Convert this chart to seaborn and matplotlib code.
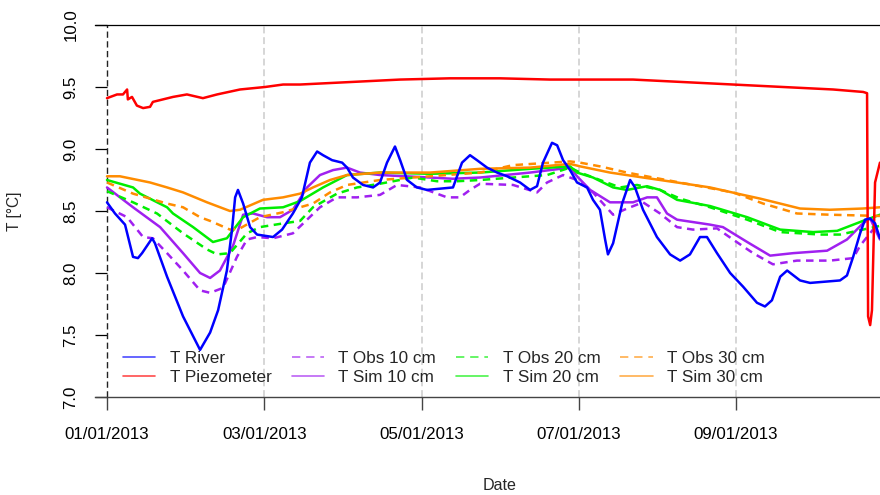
import matplotlib
matplotlib.use("Agg")
import matplotlib.pyplot as plt
from matplotlib.lines import Line2D
import numpy as np
import pandas as pd
import seaborn as sns

# ---- data: days since 01/01/2013, temperature in deg C ----
river_day = [0, 3.1, 7.0, 10.1, 12.0, 13.6, 17.5, 18.6, 23.3, 29.5, 36.1, 40.0, 43.1, 46.5,
             48.5, 49.7, 50.8, 52.8, 55.5, 58.2, 64.4, 67.9, 72.1, 75.6, 78.7, 81.5, 83.8,
             87.3, 91.2, 93.1, 95.4, 99.3, 103.2, 105.9, 108.6, 111.7, 113.7, 116.4, 120.2,
             124.1, 134.2, 137.7, 140.8, 143.5, 147.4, 151.3, 155.2, 160.2, 164.1, 166.8,
             169.1, 172.6, 174.6, 176.9, 179.6, 182.3, 186.2, 188.5, 191.2, 193.2, 194.3,
             196.3, 199.8, 202.9, 204.8, 207.9, 213.3, 218.4, 222.3, 226.1, 230.0, 232.7,
             236.6, 241.7, 246.7, 252.1, 255.2, 257.9, 261.1, 263.8, 268.8, 272.7, 284.3,
             287.0, 289.4, 292.1, 294.0, 296.0, 297.9, 299.8]
river_T = [8.57, 8.48, 8.39, 8.13, 8.12, 8.16, 8.28, 8.24, 7.97, 7.65, 7.38, 7.52, 7.70, 8.02,
           8.35, 8.61, 8.67, 8.56, 8.37, 8.31, 8.29, 8.35, 8.48, 8.61, 8.89, 8.98, 8.95,
           8.91, 8.89, 8.85, 8.77, 8.71, 8.69, 8.73, 8.89, 9.02, 8.91, 8.75, 8.69,
           8.67, 8.69, 8.89, 8.95, 8.91, 8.85, 8.81, 8.78, 8.73, 8.67, 8.70,
           8.89, 9.05, 9.03, 8.91, 8.83, 8.73, 8.69, 8.59, 8.51, 8.27, 8.15,
           8.24, 8.56, 8.75, 8.69, 8.51, 8.29, 8.15, 8.10, 8.15, 8.29, 8.29,
           8.16, 8.00, 7.89, 7.76, 7.73, 7.78, 7.97, 8.02, 7.94, 7.92, 7.94,
           7.98, 8.13, 8.32, 8.43, 8.44, 8.40, 8.28]

piezo_day = [0, 3.9, 6.2, 7.8, 8.1, 9.7, 11.6, 14.0, 16.7, 17.8, 21.7, 25.6, 31.0, 37.2, 42.7,
             51.6, 61.3, 68.3, 74.9, 94.3, 113.7, 133.0, 152.4, 171.8, 191.2, 204.0, 223.4,
             242.8, 262.2, 281.6, 293.3, 294.8, 295.2, 296.0, 296.7, 297.9, 299.8]
piezo_T = [9.41, 9.44, 9.44, 9.48, 9.40, 9.42, 9.35, 9.33, 9.34, 9.38, 9.40, 9.42, 9.44, 9.41, 9.44,
           9.48, 9.50, 9.52, 9.52, 9.54, 9.56, 9.57, 9.57, 9.56, 9.56, 9.56, 9.54,
           9.52, 9.50, 9.48, 9.46, 9.45, 7.65, 7.58, 7.70, 8.73, 8.89]

obs10_day = [0, 7.8, 14.0, 17.8, 23.3, 29.5, 36.1, 40.0, 45.0, 50.4, 54.3, 58.2, 64.4, 72.1,
             77.6, 82.6, 89.2, 97.0, 105.9, 112.5, 121.4, 131.9, 136.9, 140.8, 144.7, 157.5,
             166.8, 170.7, 176.9, 182.3, 188.5, 196.3, 201.7, 207.9, 214.5, 221.1, 227.3,
             236.6, 242.8, 250.6, 258.3, 267.6, 280.4, 289.4, 292.1, 297.1, 299.8]
obs10_T = [8.53, 8.45, 8.29, 8.28, 8.16, 8.02, 7.86, 7.84, 7.88, 8.13, 8.27, 8.29, 8.28, 8.32,
           8.43, 8.53, 8.61, 8.61, 8.63, 8.71, 8.69, 8.61, 8.61, 8.67, 8.72, 8.71,
           8.65, 8.73, 8.79, 8.75, 8.65, 8.47, 8.52, 8.57, 8.48, 8.37, 8.35,
           8.36, 8.27, 8.16, 8.07, 8.10, 8.10, 8.12, 8.22, 8.35, 8.37]

sim10_day = [0, 10.1, 20.6, 29.5, 36.1, 40.0, 43.8, 48.9, 52.8, 56.6, 62.1, 67.1, 72.1, 77.6,
             82.6, 87.7, 93.1, 98.1, 105.9, 125.3, 134.2, 144.7, 164.1, 179.6, 182.3, 187.4,
             195.1, 204.0, 209.5, 213.3, 217.2, 221.1, 233.9, 238.9, 248.3, 257.2, 266.1,
             279.3, 287.0, 293.2, 296.0, 299.8]
sim10_T = [8.69, 8.53, 8.37, 8.16, 8.00, 7.96, 8.02, 8.22, 8.47, 8.48, 8.45, 8.45, 8.51, 8.69,
           8.79, 8.83, 8.85, 8.81, 8.79, 8.77, 8.76, 8.77, 8.81, 8.85, 8.78, 8.67,
           8.57, 8.57, 8.61, 8.61, 8.48, 8.43, 8.39, 8.37, 8.25, 8.14, 8.16,
           8.18, 8.27, 8.40, 8.44, 8.27]

obs20_day = [0, 10.1, 19.4, 29.5, 38.8, 42.7, 47.7, 54.3, 59.3, 68.3, 74.9, 79.9, 89.2, 97.0,
             105.9, 118.7, 128.0, 135.8, 144.7, 157.5, 170.7, 179.6, 183.5, 191.2, 199.0,
             205.6, 214.5, 222.3, 233.9, 248.3, 261.1, 276.6, 284.3, 293.2, 299.8]
obs20_T = [8.66, 8.57, 8.48, 8.32, 8.19, 8.15, 8.16, 8.32, 8.37, 8.40, 8.42, 8.53, 8.64, 8.69,
           8.72, 8.77, 8.74, 8.74, 8.75, 8.77, 8.79, 8.85, 8.81, 8.75, 8.69,
           8.71, 8.67, 8.60, 8.53, 8.43, 8.33, 8.31, 8.31, 8.35, 8.38]

sim20_day = [0, 10.1, 12.8, 23.3, 25.6, 33.4, 41.1, 46.5, 52.8, 59.3, 68.3, 74.9, 83.8, 93.1,
             105.9, 125.3, 144.7, 164.1, 179.6, 182.3, 188.5, 196.3, 201.7, 209.5, 214.5,
             221.1, 233.9, 248.3, 261.1, 273.9, 283.2, 293.2, 299.8]
sim20_T = [8.75, 8.69, 8.64, 8.53, 8.48, 8.37, 8.25, 8.28, 8.45, 8.52, 8.53, 8.58, 8.69, 8.79,
           8.81, 8.80, 8.81, 8.84, 8.86, 8.81, 8.77, 8.69, 8.67, 8.70, 8.67,
           8.59, 8.54, 8.45, 8.35, 8.33, 8.34, 8.42, 8.47]

obs30_day = [0, 10.1, 23.3, 29.5, 36.1, 40.0, 47.7, 51.6, 59.3, 68.3, 74.9, 79.9, 86.5, 93.1,
             105.9, 118.7, 144.7, 157.5, 179.6, 183.5, 191.2, 201.7, 211.8, 227.3, 242.8,
             254.5, 267.6, 280.4, 299.8]
obs30_T = [8.73, 8.64, 8.56, 8.53, 8.45, 8.42, 8.35, 8.36, 8.45, 8.49, 8.53, 8.56, 8.65, 8.71,
           8.75, 8.77, 8.81, 8.87, 8.90, 8.89, 8.86, 8.81, 8.77, 8.71, 8.65,
           8.56, 8.48, 8.47, 8.46]

sim30_day = [0, 5.0, 16.7, 23.3, 29.5, 38.8, 47.7, 51.6, 60.5, 68.3, 74.9, 79.9, 86.5, 93.1,
             105.9, 125.3, 144.7, 164.1, 179.6, 183.5, 195.1, 207.9, 221.1, 233.9, 246.7,
             253.3, 261.1, 268.8, 280.4, 293.2, 299.8]
sim30_T = [8.78, 8.78, 8.73, 8.69, 8.65, 8.57, 8.50, 8.51, 8.59, 8.61, 8.64, 8.69, 8.75, 8.79,
           8.81, 8.81, 8.84, 8.85, 8.88, 8.86, 8.81, 8.77, 8.73, 8.69, 8.63,
           8.60, 8.56, 8.52, 8.51, 8.52, 8.53]

tick_days = [0, 61, 122, 183, 244]
tick_labels = ["01/01/2013", "03/01/2013", "05/01/2013", "07/01/2013", "09/01/2013"]
y_ticks = [7.0, 7.5, 8.0, 8.5, 9.0, 9.5, 10.0]

series = {
    "T Obs 10 cm": (obs10_day, obs10_T),
    "T Sim 10 cm": (sim10_day, sim10_T),
    "T Obs 20 cm": (obs20_day, obs20_T),
    "T Sim 20 cm": (sim20_day, sim20_T),
    "T Obs 30 cm": (obs30_day, obs30_T),
    "T Sim 30 cm": (sim30_day, sim30_T),
    "T Piezometer": (piezo_day, piezo_T),
    "T River": (river_day, river_T),
}
colors = {
    "T River": "#0000FF", "T Piezometer": "#FF0000",
    "T Obs 10 cm": "#A020F0", "T Sim 10 cm": "#A020F0",
    "T Obs 20 cm": "#00EE00", "T Sim 20 cm": "#00EE00",
    "T Obs 30 cm": "#FF8C00", "T Sim 30 cm": "#FF8C00",
}
dash_pat = (3.0, 2.2)
dashes = {name: (dash_pat if "Obs" in name else "") for name in series}

frames = [pd.DataFrame({"day": d, "T": t, "series": name}) for name, (d, t) in series.items()]
df = pd.concat(frames, ignore_index=True)

sns.set_theme(style="white")
plt.rcParams["font.family"] = ["Liberation Sans", "DejaVu Sans"]

fig = plt.figure(figsize=(8.8, 4.95), dpi=100)
ax = fig.add_axes([95 / 880, 98 / 495, 811 / 880, 372 / 495])

# vertical reference lines at the month ticks
ax.axvline(0, color="#222222", lw=1.0, ls=(0, (4.5, 2.5)), zorder=1)
for d in tick_days[1:] + [305]:
    ax.axvline(d, color="#cccccc", lw=1.1, ls=(0, (4.5, 2.5)), zorder=1)

sns.lineplot(data=df, x="day", y="T", hue="series", style="series",
             hue_order=list(series), style_order=list(series),
             palette=colors, dashes=dashes, estimator=None, sort=False,
             linewidth=1.8, legend=False, ax=ax, zorder=3)

ax.set_xlim(-4.65, 309.9)
ax.set_ylim(7.0, 10.0)
ax.set_xticks(tick_days)
ax.set_xticklabels(tick_labels)
ax.set_yticks(y_ticks)
ax.set_yticklabels([f"{v:.1f}" for v in y_ticks])

for side in ("left", "right"):
    ax.spines[side].set_visible(False)
ax.spines["top"].set_color("black")
ax.spines["top"].set_linewidth(0.9)
ax.spines["bottom"].set_color("#444444")
ax.spines["bottom"].set_linewidth(1.0)

ax.tick_params(axis="x", direction="out", length=9.4, width=1.0, color="#444444",
               pad=12.5, labelsize=12.2, labelcolor="black", bottom=True)
ax.tick_params(axis="y", direction="in", length=8.6, width=0.9, color="black",
               pad=12, labelsize=12.2, labelcolor="black", left=True)
plt.setp(ax.get_yticklabels(), rotation=90, va="center")

ax.set_xlabel("")
ax.set_ylabel("")
fig.text(500 / 880, 1 - 485 / 495, "Date", ha="center", va="center", fontsize=11.6)
fig.text(15 / 880, 1 - 211 / 495, "T [°C]", ha="center", va="center", rotation=90, fontsize=11.2)

legend_order = ["T River", "T Piezometer", "T Obs 10 cm", "T Sim 10 cm",
                "T Obs 20 cm", "T Sim 20 cm", "T Obs 30 cm", "T Sim 30 cm"]
handles = [Line2D([], [], color=colors[n], lw=1.2, alpha=0.7,
                  ls=(0, (5, 3.5)) if "Obs" in n else "-") for n in legend_order]
ax.legend(handles, legend_order, ncol=4, loc="lower left",
          bbox_to_anchor=(123 / 880, 1 - 385 / 495), bbox_transform=fig.transFigure,
          frameon=False, fontsize=12.3, handlelength=1.9, handletextpad=0.85,
          columnspacing=1.15, labelspacing=0.22, borderpad=0, borderaxespad=0)

fig.savefig("out.png", dpi=100)
